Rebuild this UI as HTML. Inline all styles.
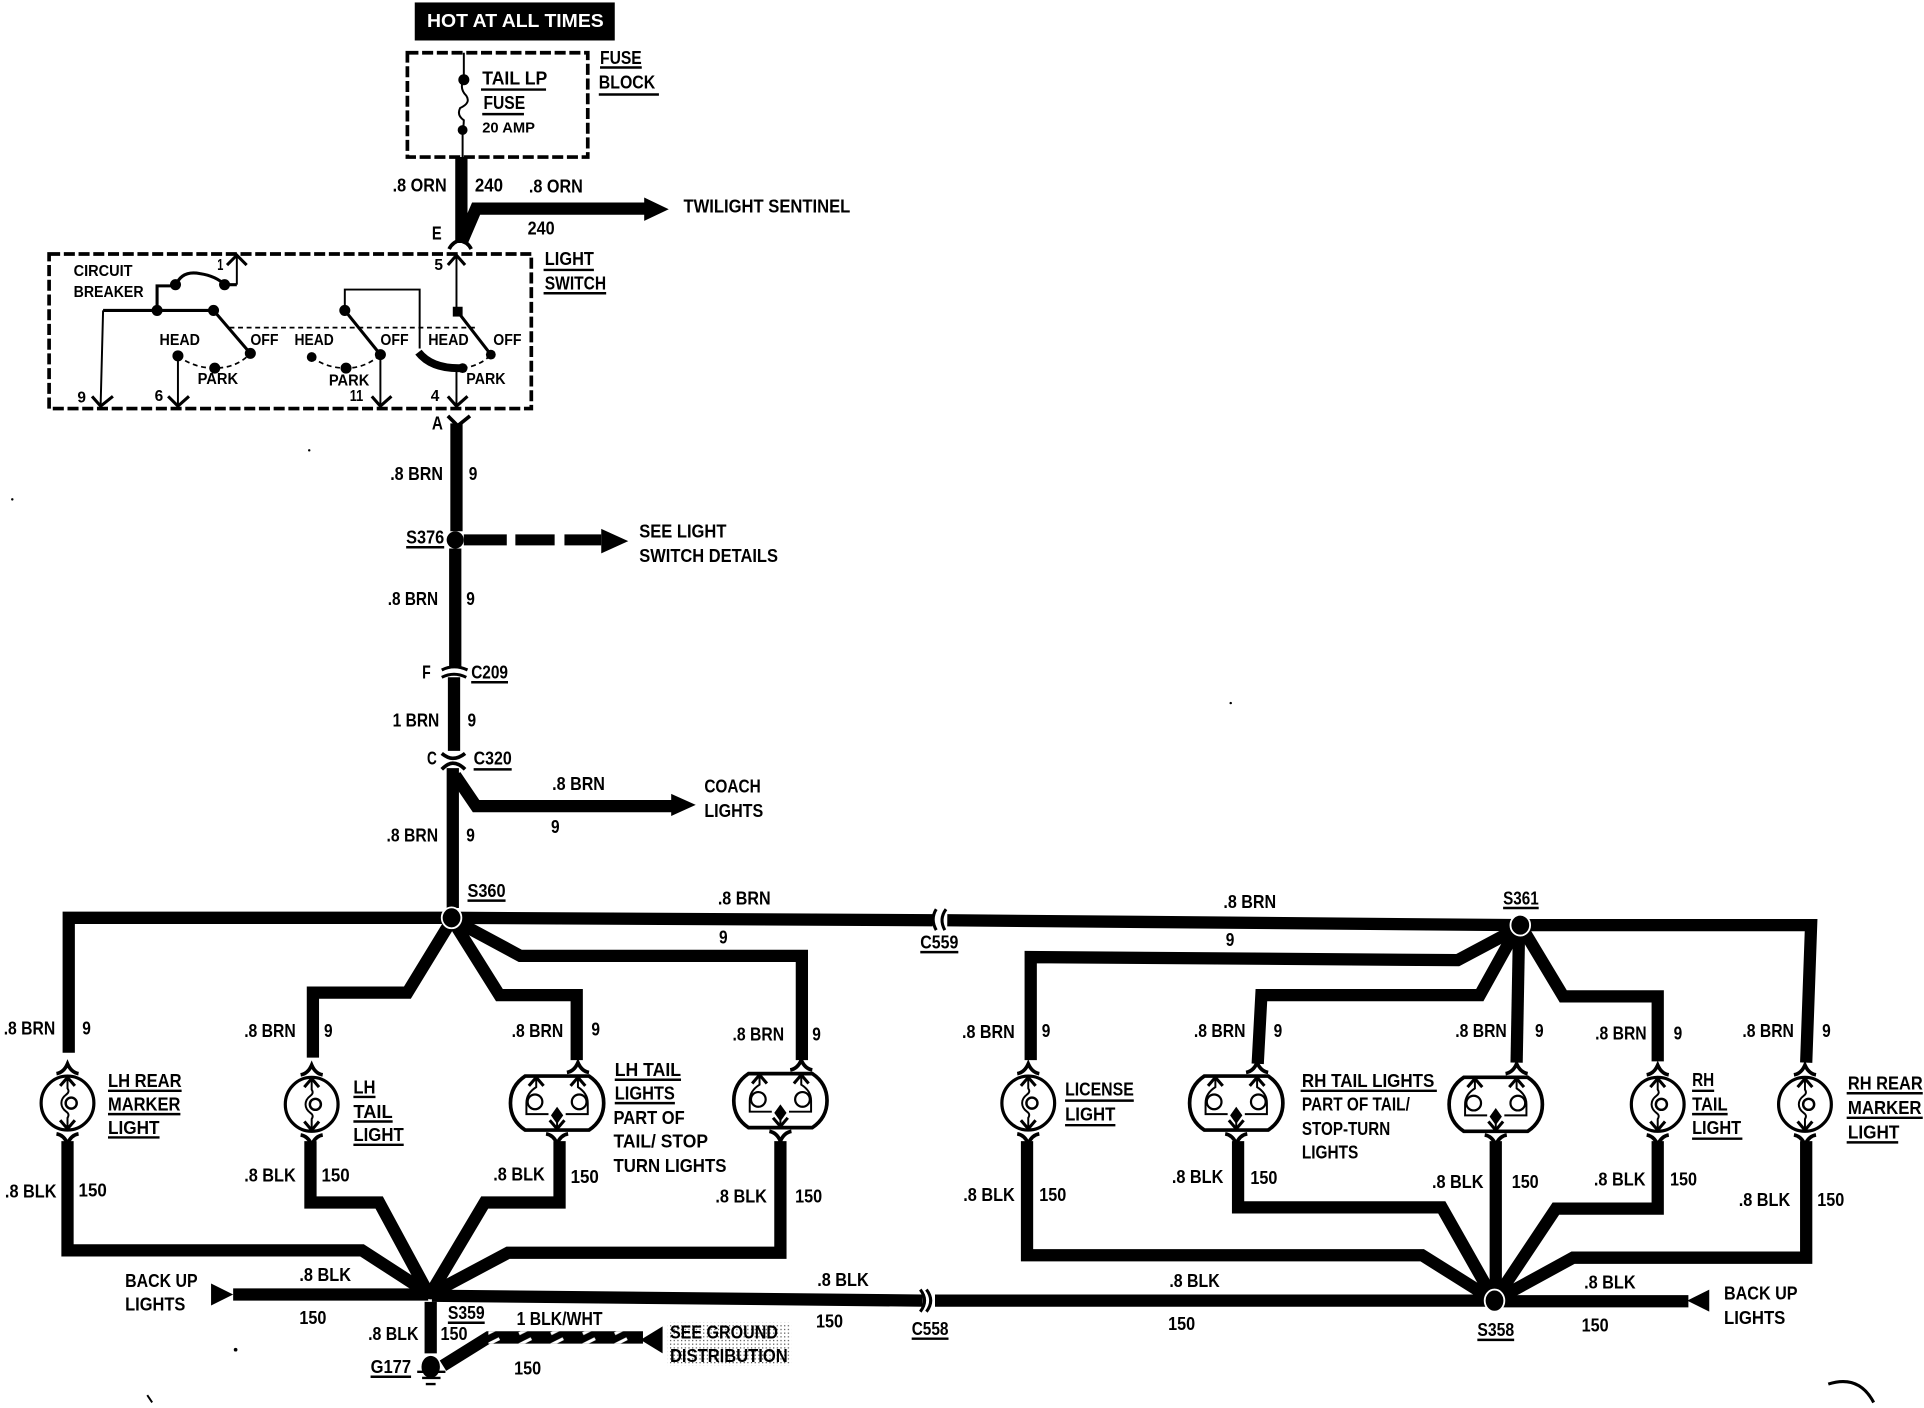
<!DOCTYPE html>
<html>
<head>
<meta charset="utf-8">
<title>Tail light wiring diagram</title>
<style>
html,body{margin:0;padding:0;background:#fff;width:1924px;height:1408px;overflow:hidden}
svg{display:block}
text{font-family:"Liberation Sans",sans-serif;font-weight:700;font-size:15px;fill:#000}
.w{fill:none;stroke:#000;stroke-width:10;stroke-linejoin:miter}
.m{fill:none;stroke:#000;stroke-width:2.5}
.t{fill:none;stroke:#000;stroke-width:1.6}
.d{fill:none;stroke:#000;stroke-width:3;stroke-dasharray:9 3}
.dd{fill:none;stroke:#000;stroke-width:1.4;stroke-dasharray:4 3}
.u{fill:none;stroke:#000;stroke-width:2}
.s text{font-size:13px}
</style>
</head>
<body>
<svg width="1924" height="1408" viewBox="0 0 1568 1147.5" xmlns="http://www.w3.org/2000/svg">
<defs>
<g id="single">
<ellipse cx="0" cy="0" rx="21.5" ry="22" fill="none" stroke="#000" stroke-width="2.6"/>
<path class="t" d="M0,-21V-12Q2,-9 -1,-7Q-5,-4 -5,0Q-5,4 -1,7Q2,9 0,12V21"/>
<circle cx="3" cy="0" r="4.5" fill="#fff" stroke="#000" stroke-width="2"/>
<path class="m" d="M-6,-14L0,-21L6,-14M-6,14L0,21L6,14"/>
<path fill="none" stroke="#000" stroke-width="3" d="M-9,-24Q-3,-25 0,-32Q3,-25 9,-24M-9,25Q-3,26 0,33Q3,26 9,25"/>
</g>
<g id="double">
<path fill="none" stroke="#000" stroke-width="3" d="M-26,-22H26Q38,-14 38,0Q38,14 26,22H-26Q-38,14 -38,0Q-38,-14 -26,-22Z"/>
<path class="t" d="M-17,-21V-13Q-25,-8 -25,0V9H-7M17,-21V-13Q25,-8 25,0V9H7M0,12V21"/>
<circle cx="-18" cy="-1" r="6" fill="#fff" stroke="#000" stroke-width="1.8"/>
<circle cx="18" cy="-1" r="6" fill="#fff" stroke="#000" stroke-width="1.8"/>
<path d="M0,3L5,10L0,17L-5,10Z" fill="#000"/>
<path class="m" d="M-23,-14L-17,-21L-11,-14M11,-14L17,-21L23,-14M-6,14L0,21L6,14"/>
<path fill="none" stroke="#000" stroke-width="3" d="M8,-25Q14,-26 17,-33Q20,-26 26,-25M-9,25Q-3,26 0,33Q3,26 9,25"/>
</g>
<pattern id="stip" width="3" height="3" patternUnits="userSpaceOnUse"><rect width="1" height="1" fill="#555"/></pattern>
<pattern id="stripes" width="26" height="9" patternUnits="userSpaceOnUse"><path d="M7,7L17,2" stroke="#fff" stroke-width="2.5"/></pattern>
</defs>

<!-- top -->
<rect x="338" y="2" width="163" height="31" fill="#000"/>
<text x="348" y="22" textLength="144" lengthAdjust="spacingAndGlyphs" style="fill:#fff">HOT AT ALL TIMES</text>
<rect x="332" y="43" width="147" height="85" class="d"/>
<path class="t" d="M378,43V65M378,65Q374,72 380,78Q384,84 375,88Q372,94 378,98Q378,102 377,106V128"/>
<circle cx="378" cy="65" r="4.5"/><circle cx="377" cy="106" r="4"/>

<path class="w" d="M376,128V198"/>
<path class="w" d="M376,198L388,170H530"/>
<path d="M525,161L545,170.5L525,180Z"/>
<path fill="none" stroke="#000" stroke-width="3" d="M366,203Q369,197 375,196Q381,197 384,203"/>

<!-- light switch -->
<rect x="40" y="207" width="393" height="126" class="d"/>
<path class="t" d="M372,254V208"/><path class="m" d="M365,216L372,208L379,216"/>
<path class="t" d="M193,232V209"/><path class="m" d="M185,216L193,208L201,216"/>
<path class="m" d="M128,253V233H143Q148,220 163,223Q176,225 183,232H193"/>
<path class="m" d="M84,253H174L204,288"/>
<path class="t" d="M84,253L82,330M145,290V330M310,289V330M372,300V331"/>
<path class="m" d="M75,323L82,331L92,323M137,323L145,331L154,323M303,323L310,331L319,323M365,323L372,331L381,323"/>
<circle cx="128" cy="253" r="4.5"/><circle cx="174" cy="253" r="4.5"/><circle cx="143" cy="232" r="4.5"/><circle cx="183" cy="232" r="4.5"/>
<circle cx="204" cy="288" r="4.5"/><circle cx="145" cy="290" r="4.5"/><circle cx="175" cy="300" r="4.5"/>
<path class="dd" d="M187,267H388"/>
<path class="dd" d="M145,290Q158,300 175,300Q193,300 204,288M254,291Q266,300 282,300Q298,300 310,289M377,300Q392,298 400,289"/>
<path class="m" d="M281,253L310,289"/>
<path class="t" d="M281,253V236H342V284"/>
<circle cx="281" cy="253" r="4.5"/><circle cx="310" cy="289" r="4.5"/><circle cx="254" cy="291" r="4"/><circle cx="282" cy="300" r="4.5"/>
<path fill="none" stroke="#000" stroke-width="6.5" d="M341,287Q352,301 377,300"/>
<circle cx="377" cy="300" r="4"/>
<rect x="369" y="250" width="8" height="8"/>
<path class="m" d="M373,254L400,289"/><circle cx="400" cy="289" r="4"/>

<!-- main vertical -->
<path fill="none" stroke="#000" stroke-width="3" d="M365,339L373,347L383,339"/>
<path class="w" d="M372,345V433"/>
<circle cx="371" cy="440" r="7"/>
<path class="w" d="M371,447V544"/>
<path class="m" d="M360,546Q370,541 381,546"/>
<path fill="none" stroke="#000" stroke-width="2.5" d="M360,552Q370,547 380,552"/>
<path class="w" d="M370,552V612"/>
<path fill="none" stroke="#000" stroke-width="3" d="M360,614Q365,618 369,618Q374,618 379,614M360,627Q365,622 369,622Q374,622 379,627"/>
<path class="w" d="M369,626V740"/>
<path class="w" d="M371,632L388,657H550"/>
<path d="M547,647L567,656L547,665Z"/>
<path fill="none" stroke="#000" stroke-width="9" d="M378,440H413M420,440H452M460,440H490"/>
<path d="M490,431L512,441L490,451Z"/>

<!-- top bus -->
<path class="w" d="M56,858V748H368"/>
<path class="w" d="M368,748L760,750M772,750L1239,754H1476L1472,866"/>
<path class="m" d="M763,741Q758,749 763,758M771,741Q765,749 770,758"/>

<!-- left branches -->
<path class="w" d="M368,750L332,809H255V862"/>
<path class="w" d="M370,752L407,811H470V864"/>
<path class="w" d="M372,751L424,779H653.5V864"/>

<!-- right branches -->
<path class="w" d="M1236,757L1188,782.5L840,780V864"/>
<path class="w" d="M1236,757L1206,811H1028L1025,867"/>
<path class="w" d="M1238,757L1236,866"/>
<path class="w" d="M1241,757L1274,812H1351V865"/>

<ellipse cx="368" cy="748" rx="8" ry="8.5" stroke="#fff" stroke-width="1.5"/>
<ellipse cx="1239" cy="754" rx="8" ry="8.5" stroke="#fff" stroke-width="1.5"/>

<!-- lights -->
<use href="#single" x="55" y="899"/>
<use href="#single" x="254" y="900"/>
<use href="#double" x="454" y="899"/>
<use href="#double" x="636" y="897"/>
<use href="#single" x="838" y="899"/>
<use href="#double" x="1007.5" y="899"/>
<use href="#double" x="1219" y="900"/>
<use href="#single" x="1351" y="900"/>
<use href="#single" x="1471" y="900"/>

<!-- lower left -->
<path class="w" d="M55,930V1019H295L349,1054"/>
<path class="w" d="M253,930V980H309L349,1054"/>
<path class="w" d="M456,930V980H395L351,1054"/>
<path class="w" d="M636,930V1021H414L352,1054"/>
<path d="M172,1046L190,1055L172,1064Z"/>
<path class="w" d="M190,1055H349"/>
<path class="w" d="M352,1056L752,1060M762,1060H1218"/>
<path class="m" d="M750,1051Q757,1060 750,1069M755,1051Q762,1060 755,1069"/>
<circle cx="351" cy="1054" r="5"/>
<path class="w" d="M351,1061V1103"/>
<ellipse cx="351" cy="1114" rx="7.5" ry="9"/>
<path class="u" d="M340,1118H363M344,1123H359M347,1128H355"/>
<path class="w" d="M361,1113L398,1090H524"/>
<path d="M398,1085H524V1095H398Z" fill="url(#stripes)"/>
<path d="M522,1092L540,1081V1103Z"/>

<!-- lower right -->
<path class="w" d="M837,930V1023H1159L1218,1060"/>
<path class="w" d="M1009,930V984H1175L1218,1060"/>
<path class="w" d="M1219,930V1060"/>
<path class="w" d="M1351,930V985H1268L1218,1060"/>
<path class="w" d="M1472,930V1025H1282L1218,1060"/>
<path class="w" d="M1218,1060.5H1376"/>
<path d="M1375,1060L1393,1051V1069Z"/>
<ellipse cx="1218" cy="1060" rx="8" ry="9" stroke="#fff" stroke-width="1.5"/>

<path class="m" d="M1490,1128Q1515,1120 1527,1143"/>
<path class="t" d="M120,1137L124,1143"/>
<circle cx="192" cy="1100" r="1.5"/><circle cx="10" cy="407" r="1"/><circle cx="252" cy="367" r="1"/><circle cx="1003" cy="573" r="1"/>

<rect x="544" y="1078" width="101" height="35" fill="url(#stip)"/>

<!-- underlines -->
<path class="u" d="M489,55H523M488,77H537M392,73H445M393,93H427M443,220H484M443,239H494M331,446H362M384,556H414M386,627H417M381,734H412M750,776H781M1225,740H1254M88,889H148M88,908H147M88,927H130M288,894H306M288,914H320M288,933H329M501,880H555M501,899H550M868,897H924M868,917H909M1060,889H1171M1379,889H1397M1379,908H1408M1379,928H1420M1505,891H1567M1505,911H1567M1505,931H1547M365,1078H395M302,1122H335M743,1091H773M1204,1092H1234"/>

<!-- labels -->
<text x="489" y="52" textLength="34" lengthAdjust="spacingAndGlyphs">FUSE</text>
<text x="488" y="72" textLength="46" lengthAdjust="spacingAndGlyphs">BLOCK</text>
<text x="393" y="69" textLength="53" lengthAdjust="spacingAndGlyphs">TAIL LP</text>
<text x="394" y="89" textLength="34" lengthAdjust="spacingAndGlyphs">FUSE</text>
<text x="393" y="108" textLength="43" lengthAdjust="spacingAndGlyphs" style="font-size:12px">20 AMP</text>
<text x="320" y="156" textLength="44" lengthAdjust="spacingAndGlyphs">.8 ORN</text>
<text x="387" y="156" textLength="23" lengthAdjust="spacingAndGlyphs">240</text>
<text x="431" y="157" textLength="44" lengthAdjust="spacingAndGlyphs">.8 ORN</text>
<text x="557" y="173" textLength="136" lengthAdjust="spacingAndGlyphs">TWILIGHT SENTINEL</text>
<text x="430" y="191" textLength="22" lengthAdjust="spacingAndGlyphs">240</text>
<text x="352" y="195" textLength="8" lengthAdjust="spacingAndGlyphs">E</text>
<text x="444" y="216" textLength="40" lengthAdjust="spacingAndGlyphs">LIGHT</text>
<text x="444" y="236" textLength="50" lengthAdjust="spacingAndGlyphs">SWITCH</text>
<g class="s">
<text x="60" y="225" textLength="48" lengthAdjust="spacingAndGlyphs">CIRCUIT</text>
<text x="60" y="242" textLength="57" lengthAdjust="spacingAndGlyphs">BREAKER</text>
<text x="177" y="220" textLength="5" lengthAdjust="spacingAndGlyphs">1</text>
<text x="354" y="220" textLength="7" lengthAdjust="spacingAndGlyphs">5</text>
<text x="130" y="281" textLength="33" lengthAdjust="spacingAndGlyphs">HEAD</text>
<text x="204" y="281" textLength="23" lengthAdjust="spacingAndGlyphs">OFF</text>
<text x="240" y="281" textLength="32" lengthAdjust="spacingAndGlyphs">HEAD</text>
<text x="310" y="281" textLength="23" lengthAdjust="spacingAndGlyphs">OFF</text>
<text x="349" y="281" textLength="33" lengthAdjust="spacingAndGlyphs">HEAD</text>
<text x="402" y="281" textLength="23" lengthAdjust="spacingAndGlyphs">OFF</text>
<text x="161" y="313" textLength="33" lengthAdjust="spacingAndGlyphs">PARK</text>
<text x="268" y="314" textLength="33" lengthAdjust="spacingAndGlyphs">PARK</text>
<text x="380" y="313" textLength="32" lengthAdjust="spacingAndGlyphs">PARK</text>
<text x="63" y="328" textLength="7" lengthAdjust="spacingAndGlyphs">9</text>
<text x="126" y="327" textLength="7" lengthAdjust="spacingAndGlyphs">6</text>
<text x="285" y="327" textLength="11" lengthAdjust="spacingAndGlyphs">11</text>
<text x="351" y="327" textLength="7" lengthAdjust="spacingAndGlyphs">4</text>
</g>
<text x="352" y="350" textLength="9" lengthAdjust="spacingAndGlyphs">A</text>
<text x="318" y="391" textLength="43" lengthAdjust="spacingAndGlyphs">.8 BRN</text>
<text x="382" y="391" textLength="7" lengthAdjust="spacingAndGlyphs">9</text>
<text x="331" y="443" textLength="31" lengthAdjust="spacingAndGlyphs">S376</text>
<text x="521" y="438" textLength="71" lengthAdjust="spacingAndGlyphs">SEE LIGHT</text>
<text x="521" y="458" textLength="113" lengthAdjust="spacingAndGlyphs">SWITCH DETAILS</text>
<text x="316" y="493" textLength="41" lengthAdjust="spacingAndGlyphs">.8 BRN</text>
<text x="380" y="493" textLength="7" lengthAdjust="spacingAndGlyphs">9</text>
<text x="344" y="553" textLength="7" lengthAdjust="spacingAndGlyphs">F</text>
<text x="384" y="553" textLength="30" lengthAdjust="spacingAndGlyphs">C209</text>
<text x="320" y="592" textLength="38" lengthAdjust="spacingAndGlyphs">1 BRN</text>
<text x="381" y="592" textLength="7" lengthAdjust="spacingAndGlyphs">9</text>
<text x="348" y="623" textLength="8" lengthAdjust="spacingAndGlyphs">C</text>
<text x="386" y="623" textLength="31" lengthAdjust="spacingAndGlyphs">C320</text>
<text x="450" y="644" textLength="43" lengthAdjust="spacingAndGlyphs">.8 BRN</text>
<text x="574" y="646" textLength="46" lengthAdjust="spacingAndGlyphs">COACH</text>
<text x="574" y="666" textLength="48" lengthAdjust="spacingAndGlyphs">LIGHTS</text>
<text x="449" y="679" textLength="7" lengthAdjust="spacingAndGlyphs">9</text>
<text x="315" y="686" textLength="42" lengthAdjust="spacingAndGlyphs">.8 BRN</text>
<text x="380" y="686" textLength="7" lengthAdjust="spacingAndGlyphs">9</text>
<text x="381" y="731" textLength="31" lengthAdjust="spacingAndGlyphs">S360</text>
<text x="585" y="737" textLength="43" lengthAdjust="spacingAndGlyphs">.8 BRN</text>
<text x="586" y="769" textLength="7" lengthAdjust="spacingAndGlyphs">9</text>
<text x="750" y="773" textLength="31" lengthAdjust="spacingAndGlyphs">C559</text>
<text x="997" y="740" textLength="43" lengthAdjust="spacingAndGlyphs">.8 BRN</text>
<text x="999" y="771" textLength="7" lengthAdjust="spacingAndGlyphs">9</text>
<text x="1225" y="737" textLength="29" lengthAdjust="spacingAndGlyphs">S361</text>

<text x="3" y="843" textLength="42" lengthAdjust="spacingAndGlyphs">.8 BRN</text>
<text x="67" y="843" textLength="7" lengthAdjust="spacingAndGlyphs">9</text>
<text x="199" y="845" textLength="42" lengthAdjust="spacingAndGlyphs">.8 BRN</text>
<text x="264" y="845" textLength="7" lengthAdjust="spacingAndGlyphs">9</text>
<text x="417" y="845" textLength="42" lengthAdjust="spacingAndGlyphs">.8 BRN</text>
<text x="482" y="844" textLength="7" lengthAdjust="spacingAndGlyphs">9</text>
<text x="597" y="848" textLength="42" lengthAdjust="spacingAndGlyphs">.8 BRN</text>
<text x="662" y="848" textLength="7" lengthAdjust="spacingAndGlyphs">9</text>
<text x="784" y="846" textLength="43" lengthAdjust="spacingAndGlyphs">.8 BRN</text>
<text x="849" y="845" textLength="7" lengthAdjust="spacingAndGlyphs">9</text>
<text x="973" y="845" textLength="42" lengthAdjust="spacingAndGlyphs">.8 BRN</text>
<text x="1038" y="845" textLength="7" lengthAdjust="spacingAndGlyphs">9</text>
<text x="1186" y="845" textLength="42" lengthAdjust="spacingAndGlyphs">.8 BRN</text>
<text x="1251" y="845" textLength="7" lengthAdjust="spacingAndGlyphs">9</text>
<text x="1300" y="847" textLength="42" lengthAdjust="spacingAndGlyphs">.8 BRN</text>
<text x="1364" y="847" textLength="7" lengthAdjust="spacingAndGlyphs">9</text>
<text x="1420" y="845" textLength="42" lengthAdjust="spacingAndGlyphs">.8 BRN</text>
<text x="1485" y="845" textLength="7" lengthAdjust="spacingAndGlyphs">9</text>

<text x="88" y="886" textLength="60" lengthAdjust="spacingAndGlyphs">LH REAR</text>
<text x="88" y="905" textLength="59" lengthAdjust="spacingAndGlyphs">MARKER</text>
<text x="88" y="924" textLength="42" lengthAdjust="spacingAndGlyphs">LIGHT</text>
<text x="288" y="891" textLength="18" lengthAdjust="spacingAndGlyphs">LH</text>
<text x="288" y="911" textLength="32" lengthAdjust="spacingAndGlyphs">TAIL</text>
<text x="288" y="930" textLength="41" lengthAdjust="spacingAndGlyphs">LIGHT</text>
<text x="501" y="877" textLength="54" lengthAdjust="spacingAndGlyphs">LH TAIL</text>
<text x="501" y="896" textLength="49" lengthAdjust="spacingAndGlyphs">LIGHTS</text>
<text x="500" y="916" textLength="58" lengthAdjust="spacingAndGlyphs">PART OF</text>
<text x="500" y="935" textLength="77" lengthAdjust="spacingAndGlyphs">TAIL/ STOP</text>
<text x="500" y="955" textLength="92" lengthAdjust="spacingAndGlyphs">TURN LIGHTS</text>
<text x="868" y="893" textLength="56" lengthAdjust="spacingAndGlyphs">LICENSE</text>
<text x="868" y="913" textLength="41" lengthAdjust="spacingAndGlyphs">LIGHT</text>
<text x="1061" y="886" textLength="108" lengthAdjust="spacingAndGlyphs">RH TAIL LIGHTS</text>
<text x="1061" y="905" textLength="88" lengthAdjust="spacingAndGlyphs">PART OF TAIL/</text>
<text x="1061" y="925" textLength="72" lengthAdjust="spacingAndGlyphs">STOP-TURN</text>
<text x="1061" y="944" textLength="46" lengthAdjust="spacingAndGlyphs">LIGHTS</text>
<text x="1379" y="885" textLength="18" lengthAdjust="spacingAndGlyphs">RH</text>
<text x="1379" y="905" textLength="29" lengthAdjust="spacingAndGlyphs">TAIL</text>
<text x="1379" y="924" textLength="40" lengthAdjust="spacingAndGlyphs">LIGHT</text>
<text x="1506" y="888" textLength="61" lengthAdjust="spacingAndGlyphs">RH REAR</text>
<text x="1506" y="908" textLength="60" lengthAdjust="spacingAndGlyphs">MARKER</text>
<text x="1506" y="928" textLength="42" lengthAdjust="spacingAndGlyphs">LIGHT</text>

<text x="4" y="976" textLength="42" lengthAdjust="spacingAndGlyphs">.8 BLK</text>
<text x="64" y="975" textLength="23" lengthAdjust="spacingAndGlyphs">150</text>
<text x="199" y="963" textLength="42" lengthAdjust="spacingAndGlyphs">.8 BLK</text>
<text x="262" y="963" textLength="23" lengthAdjust="spacingAndGlyphs">150</text>
<text x="402" y="962" textLength="42" lengthAdjust="spacingAndGlyphs">.8 BLK</text>
<text x="465" y="964" textLength="23" lengthAdjust="spacingAndGlyphs">150</text>
<text x="583" y="980" textLength="42" lengthAdjust="spacingAndGlyphs">.8 BLK</text>
<text x="648" y="980" textLength="22" lengthAdjust="spacingAndGlyphs">150</text>
<text x="785" y="979" textLength="42" lengthAdjust="spacingAndGlyphs">.8 BLK</text>
<text x="847" y="979" textLength="22" lengthAdjust="spacingAndGlyphs">150</text>
<text x="955" y="964" textLength="42" lengthAdjust="spacingAndGlyphs">.8 BLK</text>
<text x="1019" y="965" textLength="22" lengthAdjust="spacingAndGlyphs">150</text>
<text x="1167" y="968" textLength="42" lengthAdjust="spacingAndGlyphs">.8 BLK</text>
<text x="1232" y="968" textLength="22" lengthAdjust="spacingAndGlyphs">150</text>
<text x="1299" y="966" textLength="42" lengthAdjust="spacingAndGlyphs">.8 BLK</text>
<text x="1361" y="966" textLength="22" lengthAdjust="spacingAndGlyphs">150</text>
<text x="1417" y="983" textLength="42" lengthAdjust="spacingAndGlyphs">.8 BLK</text>
<text x="1481" y="983" textLength="22" lengthAdjust="spacingAndGlyphs">150</text>

<text x="102" y="1049" textLength="59" lengthAdjust="spacingAndGlyphs">BACK UP</text>
<text x="102" y="1068" textLength="49" lengthAdjust="spacingAndGlyphs">LIGHTS</text>
<text x="244" y="1044" textLength="42" lengthAdjust="spacingAndGlyphs">.8 BLK</text>
<text x="244" y="1079" textLength="22" lengthAdjust="spacingAndGlyphs">150</text>
<text x="365" y="1075" textLength="30" lengthAdjust="spacingAndGlyphs">S359</text>
<text x="300" y="1092" textLength="41" lengthAdjust="spacingAndGlyphs">.8 BLK</text>
<text x="359" y="1092" textLength="22" lengthAdjust="spacingAndGlyphs">150</text>
<text x="302" y="1119" textLength="33" lengthAdjust="spacingAndGlyphs">G177</text>
<text x="421" y="1080" textLength="70" lengthAdjust="spacingAndGlyphs">1 BLK/WHT</text>
<text x="419" y="1120" textLength="22" lengthAdjust="spacingAndGlyphs">150</text>
<text x="546" y="1091" textLength="88" lengthAdjust="spacingAndGlyphs">SEE GROUND</text>
<text x="546" y="1110" textLength="96" lengthAdjust="spacingAndGlyphs">DISTRIBUTION</text>
<text x="666" y="1048" textLength="42" lengthAdjust="spacingAndGlyphs">.8 BLK</text>
<text x="665" y="1082" textLength="22" lengthAdjust="spacingAndGlyphs">150</text>
<text x="743" y="1088" textLength="30" lengthAdjust="spacingAndGlyphs">C558</text>
<text x="953" y="1049" textLength="41" lengthAdjust="spacingAndGlyphs">.8 BLK</text>
<text x="952" y="1084" textLength="22" lengthAdjust="spacingAndGlyphs">150</text>
<text x="1204" y="1089" textLength="30" lengthAdjust="spacingAndGlyphs">S358</text>
<text x="1291" y="1050" textLength="42" lengthAdjust="spacingAndGlyphs">.8 BLK</text>
<text x="1289" y="1085" textLength="22" lengthAdjust="spacingAndGlyphs">150</text>
<text x="1405" y="1059" textLength="60" lengthAdjust="spacingAndGlyphs">BACK UP</text>
<text x="1405" y="1079" textLength="50" lengthAdjust="spacingAndGlyphs">LIGHTS</text>
</svg>
</body>
</html>
